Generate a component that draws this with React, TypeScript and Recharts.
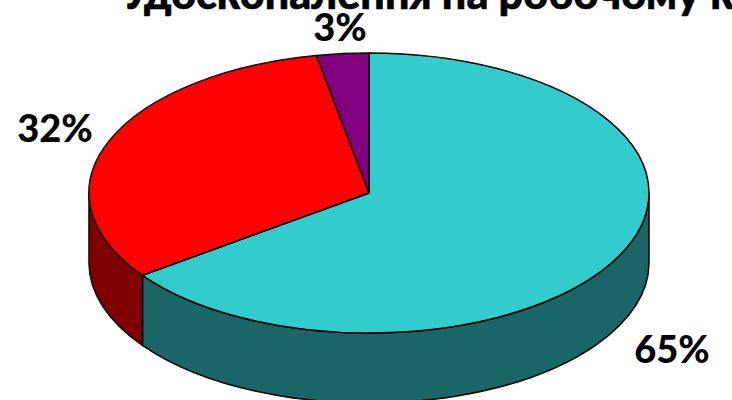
import React from 'react';
import { PieChart, Pie } from 'recharts';

const titleText = 'Удосконалення на робочому к';
const sliceNames = ['a', 'b', 'c'];
const sliceValues = [65, 32, 3];
const topColors = ['#33CCCC', '#FF0000', '#800080'];
const wallColors = ['#1A6666', '#800000', '#400040'];
const labelSpots = [
  { x: 672, y: 348 },
  { x: 55, y: 127 },
  { x: 340, y: 26 },
];

const FONT = 'Lato, sans-serif';
const SQUASH = 0.5;
const DEPTH = 70;

const data = sliceNames.map((name, i) => ({ name, value: sliceValues[i] }));

const arcPoint = (cx: number, cy: number, r: number, deg: number) => {
  const a = (deg * Math.PI) / 180;
  return { x: cx + r * Math.cos(a), y: cy - r * SQUASH * Math.sin(a) };
};

const Slice = (props: any) => {
  const { cx, cy, outerRadius: r, startAngle, endAngle, index } = props;
  const ry = r * SQUASH;
  const p0 = arcPoint(cx, cy, r, startAngle);
  const p1 = arcPoint(cx, cy, r, endAngle);
  const large = startAngle - endAngle > 180 ? 1 : 0;
  const top = `M${cx},${cy} L${p0.x},${p0.y} A${r},${ry} 0 ${large} 1 ${p1.x},${p1.y} Z`;

  // side wall only on the front half of the ellipse
  const wallFrom = Math.min(startAngle, 0);
  const wallTo = Math.max(endAngle, -180);
  let wall = null;
  if (wallFrom > wallTo) {
    const w0 = arcPoint(cx, cy, r, wallFrom);
    const w1 = arcPoint(cx, cy, r, wallTo);
    const d =
      `M${w0.x},${w0.y} A${r},${ry} 0 0 1 ${w1.x},${w1.y} ` +
      `L${w1.x},${w1.y + DEPTH} A${r},${ry} 0 0 0 ${w0.x},${w0.y + DEPTH} Z`;
    wall = <path d={d} fill={wallColors[index]} stroke="#000" strokeWidth={1.5} />;
  }

  return (
    <g>
      {wall}
      <path d={top} fill={topColors[index]} stroke="#000" strokeWidth={1.5} strokeLinejoin="round" />
    </g>
  );
};

const renderLabel = (props: any) => {
  const spot = labelSpots[props.index];
  return (
    <text
      x={spot.x}
      y={spot.y}
      textAnchor="middle"
      dominantBaseline="central"
      fontFamily={FONT}
      fontWeight={900}
      fontSize={38}
      fill="#000"
    >
      {`${props.value}%`}
    </text>
  );
};

const App = () => {
  return (
    <div style={{ position: 'absolute', left: 0, top: 0, width: 732, height: 400, overflow: 'hidden', background: '#fff' }}>
      <PieChart width={732} height={400} margin={{ top: 0, right: 0, bottom: 0, left: 0 }}>
        <text x={122} y={9} fontFamily={FONT} fontWeight={900} fontSize={43} fill="#000" stroke="#000" strokeWidth={0.6}>
          {titleText}
        </text>
        <Pie
          data={data}
          dataKey="value"
          nameKey="name"
          cx={369}
          cy={193}
          outerRadius={280}
          startAngle={90}
          endAngle={-270}
          shape={Slice}
          label={renderLabel}
          labelLine={false}
          isAnimationActive={false}
        />
      </PieChart>
    </div>
  );
};

export default App;
